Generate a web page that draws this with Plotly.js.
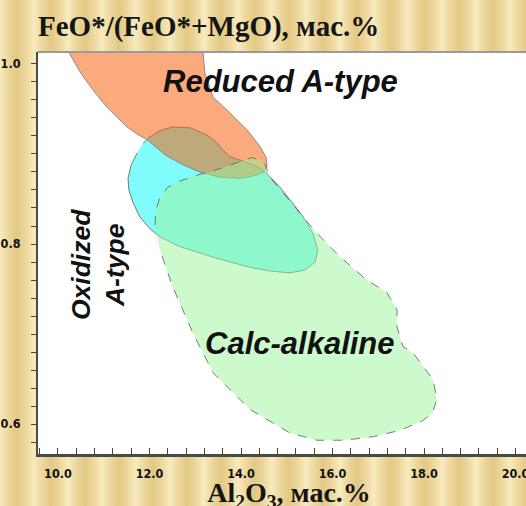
<!DOCTYPE html>
<html>
<head>
<meta charset="utf-8">
<script src="https://cdn.plot.ly/plotly-3.0.1.min.js"></script>
<style>
  html, body { margin: 0; padding: 0; overflow: hidden; width: 526px; height: 506px; }
  body {
    background-color: #ecd69a;
    background-image:
      repeating-linear-gradient(90deg, rgba(255,248,215,0.6) 0px, rgba(255,248,215,0.0) 9px, rgba(200,160,70,0.25) 17px, rgba(255,248,215,0.0) 25px, rgba(255,248,215,0.6) 34px);
  }
  #chart { width: 540px; height: 512px; }
</style>
</head>
<body>
<div id="chart"></div>
<script>
// Region outlines (Al2O3 wt.%, FeO*/(FeO*+MgO))
const reducedX = [10.09, 13.17, 13.17, 13.21, 13.39, 13.69, 14.13, 14.42, 14.55, 14.57, 14.50, 14.31, 13.98, 13.54, 13.10, 12.73, 12.34, 11.95, 11.73, 11.51, 11.31, 11.07, 10.81, 10.55, 10.39, 10.24];
const reducedY = [1.030, 1.030, 1.013, 0.990, 0.963, 0.949, 0.927, 0.908, 0.896, 0.887, 0.880, 0.876, 0.873, 0.874, 0.880, 0.888, 0.899, 0.916, 0.922, 0.930, 0.940, 0.952, 0.968, 0.986, 0.999, 1.013];

const oxidizedX = [11.86, 12.01, 12.23, 12.51, 12.89, 13.26, 13.48, 13.61, 13.76, 14.09, 14.37, 14.57, 14.85, 15.12, 15.36, 15.57, 15.68, 15.62, 15.40, 15.07, 14.63, 14.20, 13.48, 12.67, 12.23, 12.01, 11.79, 11.64, 11.55, 11.53, 11.60, 11.73];
const oxidizedY = [0.912, 0.919, 0.926, 0.930, 0.929, 0.921, 0.912, 0.904, 0.897, 0.891, 0.886, 0.878, 0.863, 0.846, 0.830, 0.812, 0.793, 0.780, 0.771, 0.768, 0.770, 0.774, 0.784, 0.797, 0.808, 0.817, 0.830, 0.846, 0.860, 0.873, 0.888, 0.901];

const calcX = [12.12, 12.14, 12.23, 12.40, 12.67, 13.00, 13.32, 13.65, 13.98, 14.24, 14.42, 14.53, 14.63, 14.92, 15.29, 15.66, 16.16, 16.75, 17.19, 17.41, 17.41, 17.54, 17.76, 18.20, 18.28, 18.18, 17.98, 17.48, 16.89, 16.27, 15.66, 15.07, 14.20, 13.39, 12.95, 12.51, 12.23];
const calcY = [0.821, 0.838, 0.852, 0.863, 0.870, 0.876, 0.880, 0.886, 0.892, 0.896, 0.893, 0.888, 0.874, 0.857, 0.834, 0.812, 0.786, 0.760, 0.746, 0.727, 0.708, 0.686, 0.679, 0.649, 0.627, 0.612, 0.604, 0.593, 0.586, 0.582, 0.582, 0.590, 0.616, 0.657, 0.701, 0.752, 0.793];

const regionNames = ['Oxidized A-type', 'Reduced A-type', 'Calc-alkaline'];
const xTickLabels = ['10.0', '12.0', '14.0', '16.0', '18.0', '20.0'];
const yTickLabels = ['0.6', '0.8', '1.0'];

const labelFont = {family: 'Liberation Sans, Arial, sans-serif', size: 31, color: '#111', weight: 'bold', style: 'italic'};
const tickFont = {family: 'Liberation Sans Narrow, DejaVu Sans Condensed, Arial Narrow, sans-serif', size: 12.5, color: '#111', weight: 'bold'};
const serifFont = {family: 'Liberation Serif, Times New Roman, serif', size: 29, color: '#151515', weight: 'bold'};
const xTitleFont = {family: 'Liberation Serif, Times New Roman, serif', size: 28, color: '#151515', weight: 'bold'};

const traces = [
  {x: oxidizedX, y: oxidizedY, name: regionNames[0], type: 'scatter', mode: 'lines', fill: 'toself',
   fillcolor: 'rgb(128,252,252)', line: {color: 'rgba(110,110,110,0.9)', width: 1}, hoverinfo: 'name'},
  {x: reducedX, y: reducedY, name: regionNames[1], type: 'scatter', mode: 'lines', fill: 'toself',
   fillcolor: 'rgba(245,95,10,0.53)', line: {color: 'rgba(120,120,120,0.8)', width: 1}, hoverinfo: 'name'},
  {x: calcX, y: calcY, name: regionNames[2], type: 'scatter', mode: 'lines', fill: 'toself',
   fillcolor: 'rgba(152,245,152,0.49)', line: {color: 'rgba(100,100,100,0.85)', width: 1, dash: 'dash'}, hoverinfo: 'name'}
];

const xr = [9.563, 20.535];
const yr = [0.5667, 1.0133];

const layout = {
  width: 540, height: 512,
  margin: {l: 38, r: 0, t: 52, b: 58},
  paper_bgcolor: 'rgba(0,0,0,0)',
  plot_bgcolor: '#ffffff',
  showlegend: false,
  title: {text: 'FeO*/(FeO*+MgO), мас.%', font: serifFont, xref: 'paper', x: 0, xanchor: 'left', yref: 'container', y: 1 - 26 / 512, yanchor: 'middle'},
  xaxis: {
    range: xr, tickmode: 'array', tickvals: xTickLabels.map(Number), ticktext: xTickLabels,
    ticks: 'inside', ticklen: 6, tickwidth: 1, tickcolor: '#444',
    minor: {dtick: 0.4, tick0: 10, ticks: 'inside', ticklen: 6, tickwidth: 1, tickcolor: '#444', showgrid: false},
    showline: true, linecolor: '#4a4a4a', linewidth: 3, showgrid: false, zeroline: false,
    tickfont: tickFont, ticklabelstandoff: 6,
    title: {text: 'Al<sub>2</sub>O<sub>3</sub>, мас.%', font: xTitleFont, standoff: 3},
    automargin: false
  },
  xaxis2: {
    range: xr, overlaying: 'x', anchor: 'y', side: 'bottom', dtick: 0.2, tick0: 10,
    ticks: 'inside', ticklen: 3, tickwidth: 1, tickcolor: '#444', showticklabels: false,
    showline: false, showgrid: false, zeroline: false
  },
  yaxis: {
    range: yr, tickmode: 'array', tickvals: yTickLabels.map(Number), ticktext: yTickLabels,
    ticks: 'outside', ticklen: 5, tickwidth: 1, tickcolor: '#444',
    minor: {dtick: 0.02, tick0: 0.6, ticks: 'outside', ticklen: 5, tickwidth: 1, tickcolor: '#444', showgrid: false},
    showline: true, linecolor: '#4a4a4a', linewidth: 2, showgrid: false, zeroline: false,
    tickfont: tickFont, ticklabelstandoff: 8, automargin: false
  },
  yaxis2: {
    range: yr, overlaying: 'y', anchor: 'x', side: 'left', dtick: 0.01, tick0: 0.6,
    ticks: 'outside', ticklen: 2.5, tickwidth: 1, tickcolor: '#444', showticklabels: false,
    showline: false, showgrid: false, zeroline: false
  },
  shapes: [
    {type: 'line', xref: 'paper', yref: 'paper', x0: 0, x1: 1, y0: 1, y1: 1, line: {color: '#9a9a9a', width: 2}}
  ],
  annotations: [
    {text: regionNames[1], x: 14.87, y: 0.980, xref: 'x', yref: 'y', showarrow: false, font: labelFont, xanchor: 'center', yanchor: 'middle'},
    {text: regionNames[2], x: 15.29, y: 0.690, xref: 'x', yref: 'y', showarrow: false, font: labelFont, xanchor: 'center', yanchor: 'middle'},
    {text: 'Oxidized<br>A-type', x: 10.86, y: 0.777, xref: 'x', yref: 'y', showarrow: false, textangle: -90,
     font: Object.assign({}, labelFont, {size: 26.5}), xanchor: 'center', yanchor: 'middle'}
  ]
};

Plotly.newPlot('chart', traces, layout, {displayModeBar: false, staticPlot: true});
</script>
</body>
</html>
